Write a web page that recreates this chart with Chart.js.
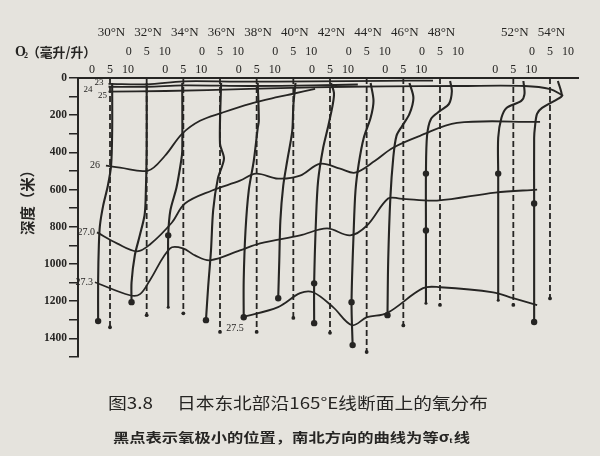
<!DOCTYPE html>
<html><head><meta charset="utf-8">
<script src="https://cdn.jsdelivr.net/npm/chart.js@4"></script>
<style>html,body{margin:0;padding:0;background:#e5e3dd}canvas{display:block}</style>
</head><body>
<canvas id="c" width="600" height="456"></canvas>
<script>
// ---- data ----
const stationLat = [30, 32, 34, 36, 38, 40, 42, 44, 46, 48, 52, 54];
const stationLabels = ['30°N','32°N','34°N','36°N','38°N','40°N','42°N','44°N','46°N','48°N','52°N','54°N'];
const o2ScaleTicks = [0, 5, 10];
const depthTicks = [0, 200, 400, 600, 800, 1000, 1200, 1400];
// bottom depth (m) of each station's dashed 5 ml/L reference line
const dashedBottom = [1340, 1275, 1265, 1365, 1365, 1290, 1370, 1473, 1330, 1220, 1220, 1185];
// oxygen profiles: [depth m, O2 ml/L]
const prof30 = [[27,5.6],[284,5.6],[471,5.3],[579,4.4],[686,3.1],[793,2.2],[900,1.9],[1087,1.7],[1307,1.7]];
const prof32 = [[27,5.0],[391,5.0],[659,4.7],[739,4.4],[846,3.1],[954,1.7],[1098,0.8],[1205,0.8]];
const prof34 = [[27,4.7],[391,4.7],[445,4.4],[589,3.1],[712,1.4],[846,0.8],[1034,0.8],[1232,0.8]];
const prof36 = [[27,5.3],[354,5.0],[434,6.1],[541,4.4],[712,3.1],[927,2.5],[1125,1.7],[1302,1.1]];
const prof38 = [[27,5.3],[230,5.6],[268,5.3],[445,4.2],[605,2.8],[820,1.9],[1087,1.4],[1286,1.4]];
const prof40 = [[27,5.6],[150,5.0],[284,4.7],[445,3.3],[579,2.2],[766,1.4],[980,1.1],[1184,0.8]];
const prof42 = [[27,5.3],[80,6.1],[139,5.8],[268,4.4],[375,3.1],[552,1.7],[766,1.1],[1104,0.6],[1318,0.6]];
const prof44 = [[27,6.1],[123,6.9],[214,6.1],[321,4.2],[461,2.8],[605,1.9],[820,1.4],[1205,0.8],[1436,1.1]];
const prof46 = [[27,6.7],[107,7.8],[193,6.7],[257,4.7],[311,3.1],[429,2.2],[643,1.4],[980,0.8],[1275,0.6]];
const prof48 = [[16,7.8],[70,8.3],[139,7.5],[177,5.0],[220,2.5],[311,1.4],[514,1.1],[820,1.1],[1211,1.1]];
const prof52 = [[16,7.8],[86,8.1],[123,7.2],[161,3.1],[214,1.7],[321,0.8],[514,0.8],[1195,0.8]];
const prof54 = [[16,7.2],[96,8.3],[112,7.2],[161,2.8],[193,1.4],[268,0.8],[321,0.6],[675,0.6],[1312,0.6]];
// depths of oxygen minimum dots
const oxyMinDepths = [[1307],[1205],[846],[1302],[1286],[1184],[1104,1318],[1205,1436],[1275],[514,820],[514],[675,1312]];
// sigma-t contours: [latitude °N, depth m]
const sigma23  = [[30.9,32],[33,34],[35,18],[38,20],[42,18],[46,15],[48.6,14]];
const sigma24  = [[30.9,47],[33,47],[35,40],[38.6,43],[42,40],[44.5,35]];
const sigma25  = [[30.9,73],[34,70],[38.6,59],[42,50],[46,45],[50,43],[53.6,43],[55,60],[55.7,96]];
const sigma26  = [[30.76,471],[31.53,482],[33.06,498],[33.98,418],[34.91,300],[35.89,230],[37.09,187],[38.62,139],[40.15,102],[40.91,86],[42.17,59]];
const sigma270 = [[30.27,830],[31.36,889],[32.45,932],[33.16,895],[34.36,777],[35.07,675],[36.55,605],[38.07,552],[38.95,514],[40.15,541],[41.35,525],[42.44,461],[43.53,487],[44.35,509],[45.44,445],[46.42,375],[47.89,311],[49.91,241],[54.44,236]];
const sigma273 = [[30.16,1098],[32.07,1168],[32.62,1162],[33.16,1087],[34.26,916],[34.96,916],[35.62,954],[36.44,980],[38.07,927],[39.17,889],[41.35,846],[42.82,809],[44.08,846],[45.0,793],[46.15,648],[46.8,648],[48.82,659],[51.99,616],[54.28,600]];
const sigma275 = [[38.18,1286],[40.15,1232],[41.35,1157],[42.06,1152],[43.15,1232],[44.18,1329],[45.0,1286],[46.09,1264],[48.06,1130],[48.99,1125],[51.88,1152],[52.97,1184],[54.28,1221]];
const contourLabels = ['23','24','25','26','27.0','27.3','27.5'];

// ---- layout / style ----
const INK = '#262523';
const U = 0.1964;          // degrees of latitude per 1 ml/L on the section
const profiles = [prof30,prof32,prof34,prof36,prof38,prof40,prof42,prof44,prof46,prof48,prof52,prof54];
const contours = [sigma23,sigma24,sigma25,sigma26,sigma270,sigma273,sigma275];

const datasets = [];
contours.forEach(c => datasets.push({
  data: c.map(([x,y]) => ({x, y})), showLine: true, borderColor: INK, borderWidth: 1.8,
  pointRadius: 0, tension: 0.35, fill: false
}));
stationLat.forEach((lat, i) => {
  const x5 = lat + 5 * U;
  datasets.push({
    data: [{x: x5, y: 0}, {x: x5, y: dashedBottom[i]}], showLine: true, borderColor: INK,
    borderWidth: 1.8, borderDash: [6, 3], pointRadius: [0, 1.9], pointBackgroundColor: INK, pointBorderWidth: 0
  });
  const p = profiles[i];
  datasets.push({
    data: p.map(([d, o]) => ({x: lat + o * U, y: d})), showLine: true, borderColor: INK, borderWidth: 2.1,
    tension: 0.3,
    pointRadius: p.map(([d], k) => oxyMinDepths[i].includes(d) ? 3.2 : (k === p.length - 1 ? 1.5 : 0)),
    pointBackgroundColor: INK, pointBorderWidth: 0
  });
});

function fitText(ctx, s, x1, x2, y, font) {
  ctx.save();
  ctx.font = font; ctx.textBaseline = 'middle'; ctx.textAlign = 'left'; ctx.fillStyle = INK;
  const w = ctx.measureText(s).width;
  ctx.translate(x1, y); ctx.scale((x2 - x1) / w, 1); ctx.fillText(s, 0, 0);
  ctx.restore();
}
function text(ctx, s, x, y, font, align) {
  ctx.save();
  ctx.font = font; ctx.textBaseline = 'middle'; ctx.textAlign = align || 'center'; ctx.fillStyle = INK;
  ctx.fillText(s, x, y);
  ctx.restore();
}

const overlay = {
  id: 'overlay',
  beforeDraw(chart) {
    const ctx = chart.ctx;
    ctx.save(); ctx.fillStyle = '#e5e3dd'; ctx.fillRect(0, 0, chart.width, chart.height); ctx.restore();
  },
  afterDraw(chart) {
    const ctx = chart.ctx, xs = chart.scales.x, ys = chart.scales.y;
    // station labels and O2 scales
    stationLat.forEach((lat, i) => {
      text(ctx, stationLabels[i], xs.getPixelForValue(lat + 5.4 * U), 33, '13px "Liberation Serif"');
      const rowY = (i % 2 === 0) ? 70 : 52;
      o2ScaleTicks.forEach(v => text(ctx, String(v), xs.getPixelForValue(lat + v * U), rowY, '12px "Liberation Serif"'));
    });
    // O2 unit label
    text(ctx, 'O', 15, 52, 'bold 14px "Liberation Serif"', 'left');
    text(ctx, '2', 24, 56, 'bold 8px "Liberation Serif"', 'left');
    fitText(ctx, '（毫升/升）', 27, 96, 52, 'bold 13px "Noto Sans CJK SC"');
    // y axis title
    ctx.save();
    ctx.translate(27, 199); ctx.rotate(-Math.PI / 2);
    fitText(ctx, '深度（米）', -36, 36, 0, 'bold 15px "Noto Sans CJK SC"');
    ctx.restore();
    // contour labels (offsets in px from each contour's first point)
    const offs = [[-5,-1,'right',9],[-16,3,'right',9],[-1.5,4,'right',9],[-6,0,'right',10],[-2,0,'right',10],[-2,0,'right',10],[-7,11,'center',10]];
    contours.forEach((c, k) => {
      const px = xs.getPixelForValue(c[0][0]), py = ys.getPixelForValue(c[0][1]);
      const [dx, dy, al, fs] = offs[k];
      text(ctx, contourLabels[k], px + dx, py + dy, fs + 'px "Liberation Serif"', al);
    });
    // captions
    fitText(ctx, '图3.8', 108, 153, 403, '16px "Noto Sans CJK SC"');
    fitText(ctx, '日本东北部沿165°E线断面上的氧分布', 177, 488, 403, '16px "Noto Sans CJK SC"');
    // second caption line with subscript t
    ctx.save();
    const fA = 'bold 13px "Noto Sans CJK SC"', fT = 'bold 8px "Liberation Serif"';
    const a = '黑点表示氧极小的位置，南北方向的曲线为等σ', b = '线';
    ctx.font = fA; const wa = ctx.measureText(a).width, wb = ctx.measureText(b).width;
    ctx.font = fT; const wt = ctx.measureText('t').width;
    const sc = (470 - 113) / (wa + wt + 1 + wb);
    ctx.translate(113, 437); ctx.scale(sc, 1);
    ctx.fillStyle = INK; ctx.textBaseline = 'middle'; ctx.textAlign = 'left';
    ctx.font = fA; ctx.fillText(a, 0, 0);
    ctx.font = fT; ctx.fillText('t', wa, 4);
    ctx.font = fA; ctx.fillText(b, wa + wt + 1, 0);
    ctx.restore();
  }
};

new Chart(document.getElementById('c'), {
  type: 'scatter',
  data: {datasets},
  options: {
    responsive: false, animation: false,
    layout: {padding: {left: 0, top: 78, right: 22, bottom: 99}},
    plugins: {legend: {display: false}, tooltip: {enabled: false}},
    scales: {
      x: {
        type: 'linear', position: 'top', min: 29.236, max: 56.51,
        ticks: {display: false}, grid: {display: false},
        border: {display: true, color: INK, width: 2},
        afterFit(s) { s.height = 0; }
      },
      y: {
        type: 'linear', position: 'left', reverse: true, min: 0, max: 1500,
        afterBuildTicks(s) { s.ticks = Array.from({length: 16}, (_, k) => ({value: k * 100})); },
        ticks: {
          autoSkip: false, padding: 2, color: INK,
          font: {family: '"Liberation Serif"', size: 11.5, weight: 'bold'},
          callback: v => depthTicks.includes(v) ? String(v) : ''
        },
        grid: {drawOnChartArea: false, drawTicks: true, tickLength: 9, color: INK, lineWidth: 1.5},
        border: {display: true, color: INK, width: 2},
        afterFit(s) { s.width = 78; }
      }
    }
  },
  plugins: [overlay]
});
</script>
</body></html>
